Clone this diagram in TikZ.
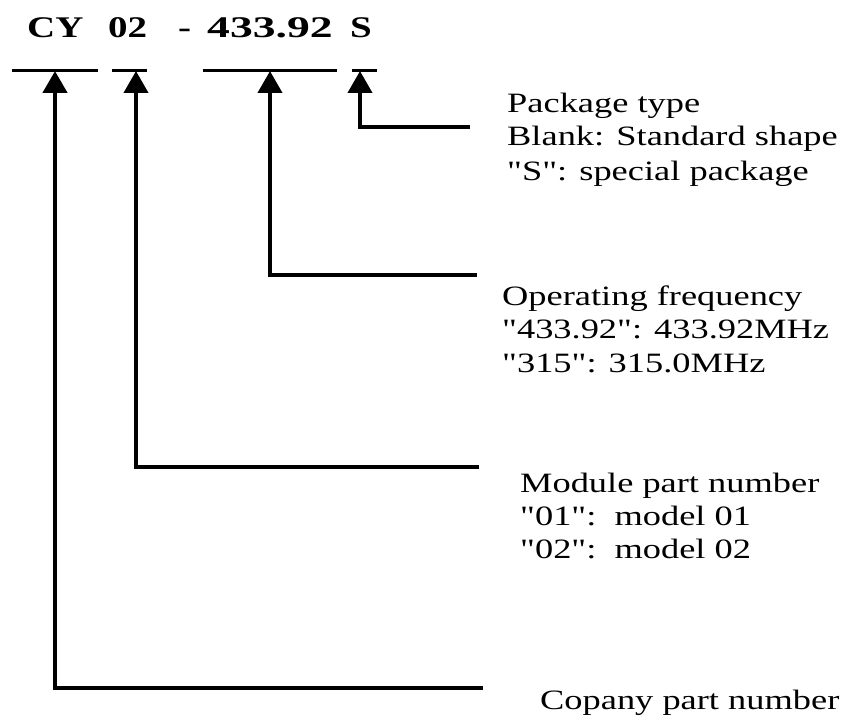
\documentclass[tikz,border=0pt]{standalone}
\usepackage{fontspec}
\setmainfont{Liberation Serif}[FakeStretch=1.3, Ligatures=TeXOff]
\newfontfamily\titlefont{Liberation Serif}[FakeStretch=1.3, Ligatures=TeXOff]
\newfontfamily\widefont{Liberation Serif}[FakeStretch=1.52, Ligatures=TeXOff]
\usetikzlibrary{arrows.meta}
\begin{document}
\begin{tikzpicture}[x=1pt,y=-1pt,
  titletext/.style={inner sep=0pt, anchor=base west, font=\fontsize{30}{34}\selectfont\titlefont\bfseries},
  desc/.style={inner sep=0pt, anchor=base west, font=\fontsize{28}{33}\selectfont},
  uline/.style={line width=3pt},
  conn/.style={line width=4pt, -{Triangle[width=24pt,length=22pt]}}]
\useasboundingbox[fill=white] (0,0) rectangle (852,717);
% title parts
\node[titletext] (cy)   at (27,38) {CY};
\node[titletext] (n02)  at (108,38) {02};
\node[titletext] (dash) at (178,38) {-};
\node[titletext, font=\fontsize{30}{34}\selectfont\widefont\bfseries] (freq) at (207,38) {433.92};
\node[titletext] (s)    at (350,38) {S};
% underlines
\draw[uline] (12,71) -- (98,71);
\draw[uline] (112,71) -- (147,71);
\draw[uline] (203,71) -- (337,71);
\draw[uline] (352,71) -- (377,71);
% arrow targets
\coordinate (ucy) at (55,71);
\coordinate (u02) at (136,71);
\coordinate (ufq) at (270,71);
\coordinate (us)  at (360,71);
% line ends
\coordinate (pkEnd) at (470,127);
\coordinate (fqEnd) at (477,275);
\coordinate (mdEnd) at (479,467);
\coordinate (cpEnd) at (483,688);
% connectors
\draw[conn] (pkEnd) -| (us);
\draw[conn] (fqEnd) -| (ufq);
\draw[conn] (mdEnd) -| (u02);
\draw[conn, line width=4.5pt] (cpEnd) -| (ucy);
% descriptions
\node[desc] (pk1) at (507,112) {Package type};
\node[desc] (pk2) at (507,146) {Blank: Standard shape};
\node[desc] (pk3) at (507,180) {"S": special package};
\node[desc] (fq1) at (502,305) {Operating frequency};
\node[desc] (fq2) at (502,338) {"433.92": 433.92MHz};
\node[desc] (fq3) at (502,372) {"315": 315.0MHz};
\node[desc] (md1) at (520,492) {Module part number};
\node[desc] (md2) at (520,525) {"01":\ \ model 01};
\node[desc] (md3) at (520,558) {"02":\ \ model 02};
\node[desc] (cp1) at (540,709) {Copany part number};
\end{tikzpicture}
\end{document}
